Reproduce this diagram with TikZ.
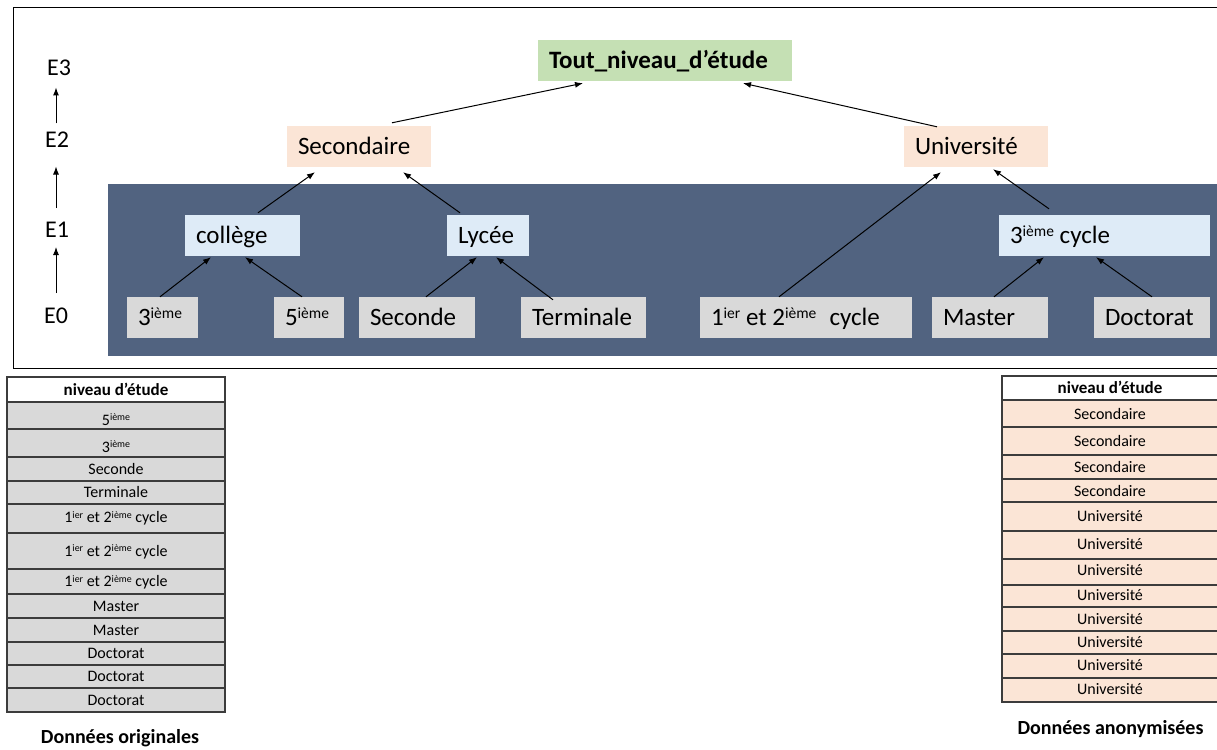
\documentclass[tikz,border=0pt]{standalone}
\usepackage{fontspec}
\setmainfont{Carlito}
\usetikzlibrary{arrows.meta,calc}
\definecolor{bandc}{RGB}{81,99,128}
\definecolor{greenc}{HTML}{C5E0B4}
\definecolor{peachc}{HTML}{FBE5D6}
\definecolor{bluec}{HTML}{DEEBF7}
\definecolor{grayc}{HTML}{D9D9D9}
\definecolor{gridc}{RGB}{60,60,60}
\newcommand\supr[1]{\raisebox{0.28em}{\scalebox{0.62}{#1}}}
\begin{document}
\begin{tikzpicture}[x=1pt,y=-1pt,
  box/.style={draw=none, inner xsep=11pt, inner ysep=0pt, minimum height=41pt,
    align=flush left, text height=17pt, text depth=1pt, font=\fontsize{25}{30}\selectfont},
  arr/.style={-{Latex[length=8pt,width=6pt]}, line width=1pt},
  elab/.style={inner sep=0pt, font=\fontsize{24}{28}\selectfont},
  cell/.style={anchor=base, inner sep=0pt, font=\fontsize{16}{19}\selectfont},
  gridline/.style={draw=gridc, line width=1.2pt}
]
\useasboundingbox (0,0) rectangle (1217,749);
% frame and band
\draw[line width=1pt] (13,8) rectangle (1224,368);
\fill[bandc] (108,184) rectangle (1217,356);

% nodes
\node[box, fill=greenc, text width=232pt] (tout) at (665,60.5) {\bfseries Tout\_niveau\_d’étude};
\node[box, fill=peachc, text width=122pt] (sec) at (359,146.5) {Secondaire};
\node[box, fill=peachc, text width=122pt] (univ) at (976,146.5) {Université};
\node[box, fill=bluec, text width=93pt] (col) at (242.5,235.5) {collège};
\node[box, fill=bluec, text width=60pt] (lyc) at (488,235.5) {Lycée};
\node[box, fill=bluec, text width=189pt] (cyc) at (1104.5,235.5) {3\supr{ième} cycle};
\node[box, fill=grayc, text width=49pt] (t3) at (162.5,317.5) {3\supr{ième}};
\node[box, fill=grayc, text width=48pt] (t5) at (309,317.5) {5\supr{ième}};
\node[box, fill=grayc, text width=94pt] (snd) at (417,317.5) {Seconde};
\node[box, fill=grayc, text width=103pt] (term) at (583.5,317.5) {Terminale};
\node[box, fill=grayc, text width=190pt] (c12) at (806,317.5) {1\supr{ier} et 2\supr{ième}\hspace{0.3em} cycle};
\node[box, fill=grayc, text width=94pt] (mas) at (990,317.5) {Master};
\node[box, fill=grayc, text width=94pt] (doc) at (1152,317.5) {Doctorat};

% connectors
\draw[arr] ([xshift=-2.5pt]t3.north) -- ([xshift=-31.5pt,yshift=-1pt]col.south);
\draw[arr] ([xshift=-7pt]t5.north) -- ([xshift=2.5pt,yshift=-1pt]col.south);
\draw[arr] ([xshift=15.5pt,yshift=2pt]col.north) -- ([xshift=-44pt,yshift=-5pt]sec.south);
\draw[arr] ([xshift=-28pt,yshift=2pt]lyc.north) -- ([xshift=44pt,yshift=-5pt]sec.south);
\draw[arr] ([xshift=9pt]snd.north) -- ([xshift=-11pt,yshift=-1pt]lyc.south);
\draw[arr] ([xshift=-30.5pt,yshift=-3pt]term.north) -- ([xshift=8pt,yshift=-1pt]lyc.south);
\draw[arr] ([xshift=33pt,yshift=3pt]sec.north) -- ([xshift=-82pt,yshift=-2pt]tout.south);
\draw[arr] ([xshift=-39pt,yshift=-1pt]univ.north) -- ([xshift=78pt,yshift=-2pt]tout.south);
\draw[arr] ([xshift=-27pt]c12.north) -- ([xshift=-35pt,yshift=-5pt]univ.south);
\draw[arr] ([xshift=-55.5pt,yshift=6pt]cyc.north) -- ([xshift=17pt,yshift=-2pt]univ.south);
\draw[arr] ([xshift=4pt]mas.north) -- ([xshift=-60.5pt,yshift=-1pt]cyc.south);
\draw[arr] (doc.north) -- ([xshift=-8.5pt,yshift=-1pt]cyc.south);

% level labels
\node[elab] (e0) at (56,316) {E0};
\node[elab] (e1) at (57,230) {E1};
\node[elab] (e2) at (57,139.5) {E2};
\node[elab] (e3) at (59,67.5) {E3};
\draw[arr] ([yshift=23pt]e0.center) -- ([xshift=-1pt,yshift=-17pt]e1.center);
\draw[arr] ([xshift=-1pt,yshift=22pt]e1.center) -- ([xshift=-1pt,yshift=-27pt]e2.center);
\draw[arr] ([xshift=-1pt,yshift=16pt]e2.center) -- ([xshift=-3pt,yshift=-20pt]e3.center);

% left table
\foreach \ya/\yb/\yt/\txt/\fc [count=\i] in {
  377/402/395/{\fontsize{17}{20}\selectfont\bfseries niveau d'étude}/white,
  402/429/425/{5\supr{ième}}/grayc,
  429/457/452/{3\supr{ième}}/grayc,
  457/481/474.3/{Seconde}/grayc,
  481/504/497.7/{Terminale}/grayc,
  504/533/522.7/{1\supr{ier} et 2\supr{ième} cycle}/grayc,
  533/569/556/{1\supr{ier} et 2\supr{ième} cycle}/grayc,
  569/594/586.7/{1\supr{ier} et 2\supr{ième} cycle}/grayc,
  594/618/611.7/{Master}/grayc,
  618/642/635/{Master}/grayc,
  642/665/658.3/{Doctorat}/grayc,
  665/688/681.7/{Doctorat}/grayc,
  688/712/705/{Doctorat}/grayc}{
  \path[gridline, fill=\fc] (7,\ya) rectangle (225,\yb);
  \node[cell] (lt\i) at (116,\yt) {\txt};
}
\node[anchor=base, inner sep=0pt, font=\fontsize{20}{24}\selectfont\bfseries] (lcap) at (120,743.5) {Données originales};

% right table
\foreach \ya/\yb/\yt/\txt/\fc [count=\i] in {
  376/400/393/{\fontsize{17}{20}\selectfont\bfseries niveau d'étude}/white,
  400/427/419.3/{Secondaire}/peachc,
  427/455/446.7/{Secondaire}/peachc,
  455/479/472.7/{Secondaire}/peachc,
  479/502/496/{Secondaire}/peachc,
  502/531/521.7/{Université}/peachc,
  531/559/549.3/{Université}/peachc,
  559/585/575.7/{Université}/peachc,
  585/607/600.7/{Université}/peachc,
  607/631/624/{Université}/peachc,
  631/654/647.3/{Université}/peachc,
  654/678/670/{Université}/peachc,
  678/702/694/{Université}/peachc}{
  \path[gridline, fill=\fc] (1002,\ya) rectangle (1224,\yb);
  \node[cell] (rt\i) at (1110,\yt) {\txt};
}
\node[anchor=base, inner sep=0pt, font=\fontsize{20}{24}\selectfont\bfseries] (rcap) at (1110.5,734.3) {Données anonymisées};
\end{tikzpicture}
\end{document}
